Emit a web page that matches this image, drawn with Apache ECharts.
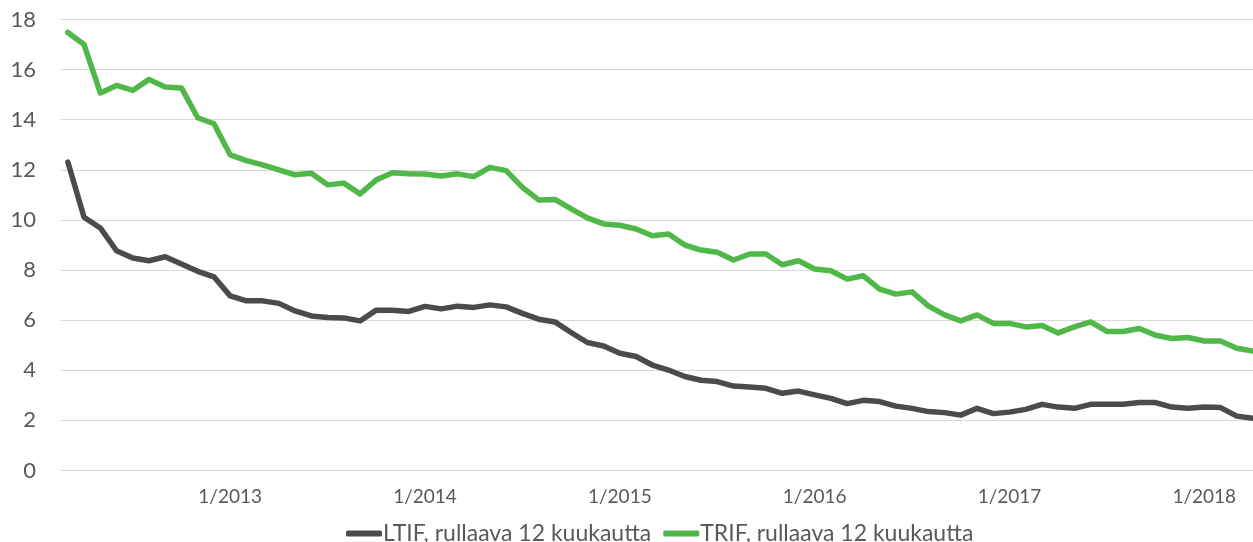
<!DOCTYPE html>
<html>
<head>
<meta charset="utf-8">
<script src="https://cdn.jsdelivr.net/npm/echarts@6/dist/echarts.min.js"></script>
<style>
html,body{margin:0;padding:0;background:#fff;}
#c{width:1253px;height:542px;}
</style>
</head>
<body>
<div id="c"></div>
<script>
const months = [
  '3/2012','4/2012','5/2012','6/2012','7/2012','8/2012','9/2012','10/2012','11/2012','12/2012',
  '1/2013','2/2013','3/2013','4/2013','5/2013','6/2013','7/2013','8/2013','9/2013','10/2013','11/2013','12/2013',
  '1/2014','2/2014','3/2014','4/2014','5/2014','6/2014','7/2014','8/2014','9/2014','10/2014','11/2014','12/2014',
  '1/2015','2/2015','3/2015','4/2015','5/2015','6/2015','7/2015','8/2015','9/2015','10/2015','11/2015','12/2015',
  '1/2016','2/2016','3/2016','4/2016','5/2016','6/2016','7/2016','8/2016','9/2016','10/2016','11/2016','12/2016',
  '1/2017','2/2017','3/2017','4/2017','5/2017','6/2017','7/2017','8/2017','9/2017','10/2017','11/2017','12/2017',
  '1/2018','2/2018','3/2018','4/2018'
];
const tickLabels = ['1/2013','1/2014','1/2015','1/2016','1/2017','1/2018'];
const seriesNames = ['LTIF, rullaava 12 kuukautta','TRIF, rullaava 12 kuukautta'];
const ltif = [
  12.31,10.11,9.68,8.77,8.48,8.37,8.53,8.24,7.95,7.73,
  6.97,6.77,6.77,6.67,6.37,6.17,6.11,6.09,5.97,6.40,6.40,6.35,
  6.55,6.45,6.56,6.51,6.61,6.53,6.27,6.04,5.93,5.51,5.11,4.97,
  4.68,4.55,4.21,4.01,3.75,3.60,3.55,3.37,3.33,3.28,3.08,3.17,
  3.02,2.88,2.67,2.80,2.75,2.57,2.48,2.35,2.31,2.21,2.48,2.27,
  2.33,2.44,2.64,2.53,2.48,2.64,2.64,2.64,2.71,2.71,2.53,2.48,
  2.53,2.51,2.17,2.08
];
const trif = [
  17.48,17.00,15.07,15.37,15.17,15.61,15.31,15.27,14.08,13.84,
  12.60,12.37,12.20,12.00,11.80,11.86,11.40,11.47,11.04,11.60,11.88,11.84,
  11.83,11.75,11.84,11.73,12.10,11.97,11.30,10.80,10.82,10.44,10.08,9.84,
  9.79,9.64,9.37,9.44,9.00,8.80,8.71,8.40,8.64,8.64,8.21,8.37,
  8.04,7.97,7.64,7.77,7.24,7.04,7.13,6.57,6.21,5.97,6.21,5.87,
  5.87,5.73,5.79,5.49,5.73,5.93,5.55,5.55,5.67,5.40,5.27,5.31,
  5.17,5.17,4.88,4.77
];
const colors = ['#4B4B4D','#50B848'];

const tickIdx = tickLabels.map(t => months.indexOf(t));
const FONT = 'Lato';
const chart = echarts.init(document.getElementById('c'), null, {renderer:'canvas'});
chart.setOption({
  animation:false,
  backgroundColor:'#fff',
  grid:{left:61,right:0,top:19.5,bottom:71.5,containLabel:false},
  xAxis:{
    type:'value', min:-0.42, max:months.length-1,
    axisLine:{show:false}, axisTick:{show:false}, splitLine:{show:false},
    axisLabel:{
      customValues:tickIdx,
      formatter:v => months[Math.round(v)] || '',
      color:'#595959', fontFamily:FONT, fontSize:19, margin:17
    }
  },
  yAxis:{
    type:'value', min:0, max:18, interval:2,
    axisLine:{show:false}, axisTick:{show:false},
    splitLine:{lineStyle:{color:'#D9D9D9',width:1}},
    axisLabel:{color:'#595959', fontFamily:FONT, fontSize:22, margin:25}
  },
  legend:{
    top:517, left:341,
    icon:'roundRect', itemWidth:36, itemHeight:6, itemGap:12,
    textStyle:{color:'#595959', fontFamily:FONT, fontSize:23, padding:[0,0,0,-4]},
    data:seriesNames
  },
  series:[
    {name:seriesNames[0], type:'line', data:ltif.map((v,i)=>[i,v]), showSymbol:false, symbol:'none',
     color:colors[0], lineStyle:{width:5.5,color:colors[0],cap:'round',join:'round'}},
    {name:seriesNames[1], type:'line', data:trif.map((v,i)=>[i,v]), showSymbol:false, symbol:'none',
     color:colors[1], lineStyle:{width:5.5,color:colors[1],cap:'round',join:'round'}}
  ]
});
</script>
</body>
</html>
